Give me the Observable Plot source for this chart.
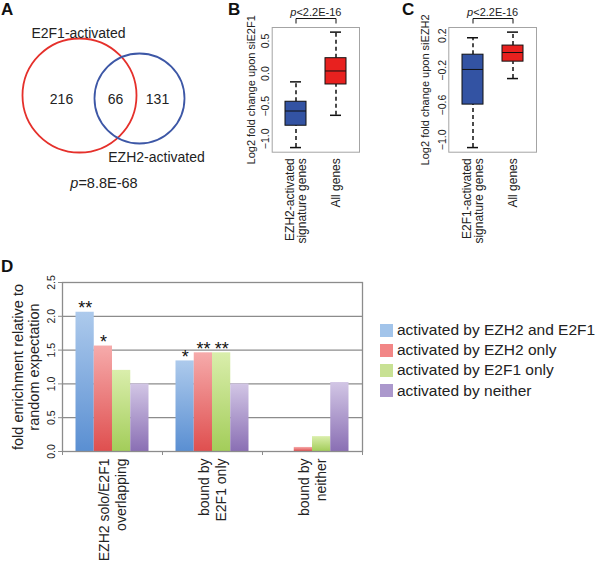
<!DOCTYPE html>
<html><head><meta charset="utf-8">
<script src="https://cdn.jsdelivr.net/npm/d3@7"></script>
<script src="https://cdn.jsdelivr.net/npm/@observablehq/plot@0.6"></script>
<style>
body{margin:0;background:#fff;}
#fig{position:relative;width:600px;height:563px;overflow:hidden;font-family:"Liberation Sans",Arial,Helvetica,sans-serif;color:#222;}
#fig svg{position:absolute;}
.letter{position:absolute;font-weight:bold;font-size:17px;line-height:17px;color:#111;}
.legend{position:absolute;left:380px;top:320px;font-size:15.5px;color:#222;}
.legend .row{display:flex;align-items:center;height:20.2px;white-space:nowrap;}
.legend .sw{width:13px;height:13px;margin-right:4px;flex:none;}
</style></head><body><div id="fig"></div>
<script>
// ---------- DATA ----------
// Panel A (Venn)
const vennSets = ["E2F1-activated", "EZH2-activated"];
const vennSetSizes = [282, 197];
const vennRegions = ["E2F1 only", "both", "EZH2 only"];
const vennRegionCounts = [216, 66, 131];
const vennP = "p=8.8E-68";

// Panel B (boxplot, siE2F1)
const boxBGroups = ["EZH2-activated\nsignature genes", "All genes"];
const boxBMin = [-1.135, -0.64];
const boxBQ1 = [-0.80, -0.167];
const boxBMed = [-0.574, 0.04];
const boxBQ3 = [-0.432, 0.236];
const boxBMax = [-0.127, 0.636];
const boxBTicks = [-1.0, -0.5, 0.0, 0.5];
const boxBLabel = "Log2 fold change upon siE2F1";
const boxBP = "p<2.2E-16";

// Panel C (boxplot, siEZH2)
const boxCGroups = ["E2F1-activated\nsignature genes", "All genes"];
const boxCMin = [-1.09, -0.295];
const boxCQ1 = [-0.595, -0.10];
const boxCMed = [-0.19, 0.005];
const boxCQ3 = [-0.02, 0.085];
const boxCMax = [0.175, 0.24];
const boxCTicks = [-1.0, -0.6, -0.2, 0.2];
const boxCLabel = "Log2 fold change upon siEZH2";
const boxCP = "p<2.2E-16";

// Panel D (grouped bars)
const barGroups = ["EZH2 solo/E2F1\noverlapping", "bound by\nE2F1 only", "bound by\nneither"];
const barSeries = ["activated by EZH2 and E2F1", "activated by EZH2 only", "activated by E2F1 only", "activated by neither"];
const barValues = [
  [2.06, 1.56, 1.20, 1.00],
  [1.34, 1.46, 1.46, 1.00],
  [0.00, 0.06, 0.22, 1.02]
];
const barStars = [
  ["**", "*", "", ""],
  ["*", "**", "**", ""],
  ["", "", "", ""]
];
const barTicks = [0, 0.5, 1.0, 1.5, 2.0, 2.5];
const barYLabel = "fold enrichment relative to\nrandom expectation";

// ---------- STYLE ----------
const FONT = '"Liberation Sans", Arial, Helvetica, sans-serif';
const vennColors = ["#e5302b", "#3d57a6"];
const boxFills = ["#3353a3", "#e8211f"];
const gradStops = [
  ["#adcaec", "#5a8fd2"],
  ["#f6abab", "#df4f4f"],
  ["#daeeac", "#a3cd5a"],
  ["#d2c6e5", "#8a6fb4"]
];
const legendColors = ["#a2c4ea", "#f28686", "#c8e194", "#ab98cc"];

const fig = document.getElementById("fig");
function place(svg, left, top) { svg.style.left = left + "px"; svg.style.top = top + "px"; fig.appendChild(svg); return svg; }
function italicP(svg) {
  svg.querySelectorAll("text").forEach(t => {
    const s = t.textContent;
    if (t.children.length === 0 && /^p[<=]/.test(s)) {
      t.textContent = "";
      const it = document.createElementNS("http://www.w3.org/2000/svg", "tspan");
      it.setAttribute("font-style", "italic");
      it.textContent = "p";
      t.appendChild(it);
      t.appendChild(document.createTextNode(s.slice(1)));
    }
  });
}
function letter(ch, left, top) {
  const d = document.createElement("div");
  d.className = "letter"; d.textContent = ch;
  d.style.left = left + "px"; d.style.top = top + "px";
  fig.appendChild(d);
}

// ---------- PANEL A ----------
{
  const layout = {cx: [79, 139], cy: [95, 98]};
  const rScale = {type: "sqrt", domain: d3.extent(vennSetSizes).sort(d3.ascending), range: [45, 57]};
  const rFn = d3.scaleSqrt().domain(rScale.domain).range(rScale.range);
  const sets = vennSets.map((s, i) => ({s, size: vennSetSizes[i], cx: layout.cx[i], cy: layout.cy[i], color: vennColors[i], r: rFn(vennSetSizes[i])}));
  const [a, b] = sets;
  const cyMid = (a.cy + b.cy) / 2 + 2.5;
  const regionX = [
    ((a.cx - a.r) + (b.cx - b.r)) / 2 + 3,
    ((b.cx - b.r) + (a.cx + a.r)) / 2,
    ((a.cx + a.r) + (b.cx + b.r)) / 2 - 3
  ];
  const regions = vennRegions.map((r, i) => ({r, n: vennRegionCounts[i], x: regionX[i], y: cyMid}));
  const svg = Plot.plot({
    width: 210, height: 200, margin: 0,
    style: {fontFamily: FONT, background: "transparent", overflow: "visible", color: "#222"},
    x: {domain: [0, 210], range: [0, 210], axis: null},
    y: {domain: [0, 200], range: [0, 200], axis: null},
    r: rScale,
    color: {type: "identity"},
    marks: [
      Plot.dot(sets, {x: "cx", y: "cy", r: "size", stroke: "color", strokeWidth: 1.8, fill: "none"}),
      Plot.text(regions, {x: "x", y: "y", text: d => String(d.n), fontSize: 14, fill: "#222"}),
      Plot.text([a], {x: d => d.cx - 1, y: d => d.cy - d.r - 1, text: "s", lineAnchor: "bottom", fontSize: 14, fill: "#222"}),
      Plot.text([b], {x: d => d.cx + 17, y: d => d.cy + d.r + 9, text: "s", lineAnchor: "top", fontSize: 14, fill: "#222"}),
      Plot.text([vennP], {x: () => (a.cx + b.cx) / 2 - 5.5, y: () => a.cy + a.r + 31, text: d => d, fontSize: 14.5, fill: "#222"})
    ]
  });
  italicP(svg);
  place(svg, 0, 0);
}

// ---------- PANELS B & C ----------
function boxPanel({groups, mins, q1s, meds, q3s, maxs, ticks, ylabel, ptext, marginLeft, marginRight, labelDx}) {
  const rows = groups.map((g, i) => ({g, min: mins[i], q1: q1s[i], med: meds[i], q3: q3s[i], max: maxs[i], fill: boxFills[i]}));
  const lo = d3.min(mins), hi = d3.max(maxs), ext = (hi - lo) * 0.04;
  const dom = [lo - ext, hi + ext];
  const span = dom[1] - dom[0];
  const yb1 = dom[1] + span * 0.035, yb2 = dom[1] + span * 0.072, yp = dom[1] + span * 0.12;
  const bracket = [
    {g: groups[0], y: yb1}, {g: groups[0], y: yb2}, {g: groups[1], y: yb2}, {g: groups[1], y: yb1}
  ];
  const dash = {stroke: "#111", strokeWidth: 1.5, strokeDasharray: "4,3"};
  const svg = Plot.plot({
    width: 180, height: 250, marginLeft, marginRight, marginTop: 27, marginBottom: 98.3,
    style: {fontFamily: FONT, background: "transparent", overflow: "visible", color: "#222"},
    x: {type: "band", domain: groups, paddingInner: 0.48, paddingOuter: 0.32, axis: null},
    y: {domain: dom, axis: null},
    color: {type: "identity"},
    marks: [
      Plot.frame({stroke: "#a4a4a4", strokeWidth: 1}),
      Plot.ruleX(rows, {x: "g", y1: "q3", y2: "max", ...dash}),
      Plot.ruleX(rows, {x: "g", y1: "min", y2: "q1", ...dash}),
      Plot.tickY(rows, {x: "g", y: "max", insetLeft: 5, insetRight: 5, stroke: "#111", strokeWidth: 1.5}),
      Plot.tickY(rows, {x: "g", y: "min", insetLeft: 5, insetRight: 5, stroke: "#111", strokeWidth: 1.5}),
      Plot.barY(rows, {x: "g", y1: "q1", y2: "q3", fill: "fill", stroke: "#111", strokeWidth: 1}),
      Plot.tickY(rows, {x: "g", y: "med", stroke: "#111", strokeWidth: 1}),
      Plot.axisY({ticks, tickSize: 0, tickPadding: 3, tickRotate: -90, tickFormat: d3.format(".1f"), fontSize: 10.5, label: null}),
      Plot.axisX({tickSize: 0, tickPadding: 6, tickRotate: -90, lineAnchor: "middle", fontSize: 12, label: null}),
      Plot.text([{t: ylabel, y: (dom[0] + dom[1]) / 2}], {y: "y", frameAnchor: "left", textAnchor: "middle", lineAnchor: "middle", rotate: -90, dx: labelDx, text: "t", fontSize: 11}),
      Plot.line(bracket, {x: "g", y: "y", stroke: "#111", strokeWidth: 1}),
      Plot.text([{t: ptext, y: yp}], {y: "y", text: "t", fontSize: 11})
    ]
  });
  italicP(svg);
  return svg;
}
place(boxPanel({groups: boxBGroups, mins: boxBMin, q1s: boxBQ1, meds: boxBMed, q3s: boxBQ3, maxs: boxBMax,
  ticks: boxBTicks, ylabel: boxBLabel, ptext: boxBP, marginLeft: 71.7, marginRight: 21, labelDx: -21}), 200, 0);
place(boxPanel({groups: boxCGroups, mins: boxCMin, q1s: boxCQ1, meds: boxCMed, q3s: boxCQ3, maxs: boxCMax,
  ticks: boxCTicks, ylabel: boxCLabel, ptext: boxCP, marginLeft: 68.3, marginRight: 24, labelDx: -23}), 380, 0);

// ---------- PANEL D ----------
{
  const rows = [];
  barGroups.forEach((g, gi) => barSeries.forEach((s, si) => rows.push({g, gi, s, si, v: barValues[gi][si], star: barStars[gi][si]})));
  const groupPad = 0.135, barW = 0.1825;
  const gradIds = barSeries.map((_, i) => "dgrad" + i);
  const grid = "#8c8c8c";
  const yDom = [barTicks[0], barTicks[barTicks.length - 1]];
  const svg = Plot.plot({
    width: 370, height: 313, marginLeft: 62, marginRight: 8, marginTop: 32, marginBottom: 112,
    style: {fontFamily: FONT, background: "transparent", overflow: "visible", color: "#222"},
    x: {domain: [0, barGroups.length], axis: null},
    y: {domain: yDom, axis: null},
    color: {type: "ordinal", domain: barSeries, range: gradIds.map(id => `url(#${id})`)},
    marks: [
      Plot.ruleY(barTicks.slice(1, -1), {stroke: grid, strokeWidth: 1.3}),
      Plot.rectY(rows, {
        x1: d => d.gi + groupPad + d.si * barW,
        x2: d => d.gi + groupPad + (d.si + 1) * barW,
        y1: 0, y2: "v", fill: "s"
      }),
      Plot.frame({stroke: grid, strokeWidth: 1.3}),
      Plot.text(rows.filter(d => d.star), {
        x: d => d.gi + groupPad + (d.si + 0.5) * barW, y: "v", text: "star",
        lineAnchor: "bottom", dy: 2, fontSize: 18, fill: "#111"
      }),
      Plot.axisY({ticks: barTicks, tickSize: 4, tickPadding: 4, tickRotate: -90, tickFormat: d3.format(".1f"), fontSize: 10.5, stroke: grid, label: null}),
      Plot.axisX({ticks: d3.range(barGroups.length + 1), tickSize: 4, tickFormat: () => "", stroke: grid, label: null}),
      Plot.axisX({ticks: barGroups.map((_, i) => i + 0.5), tickSize: 0, tickPadding: 7, tickRotate: -90, lineAnchor: "middle",
        tickFormat: t => barGroups[Math.floor(t)], fontSize: 14, lineHeight: 1.2, label: null}),
      Plot.text([{t: barYLabel, y: (yDom[0] + yDom[1]) / 2}], {y: "y", frameAnchor: "left", textAnchor: "middle", lineAnchor: "middle", rotate: -90, dx: -37, text: "t", fontSize: 14.5, lineHeight: 1.15})
    ]
  });
  const defs = d3.select(svg).insert("defs", ":first-child");
  gradIds.forEach((id, i) => {
    const lg = defs.append("linearGradient").attr("id", id).attr("x1", 0).attr("y1", 0).attr("x2", 0).attr("y2", 1);
    lg.append("stop").attr("offset", "0%").attr("stop-color", gradStops[i][0]);
    lg.append("stop").attr("offset", "100%").attr("stop-color", gradStops[i][1]);
  });
  place(svg, 0, 250);

  const leg = document.createElement("div");
  leg.className = "legend";
  barSeries.forEach((s, i) => {
    const row = document.createElement("div"); row.className = "row";
    const sw = document.createElement("div"); sw.className = "sw"; sw.style.background = legendColors[i];
    const tx = document.createElement("span"); tx.textContent = s;
    row.appendChild(sw); row.appendChild(tx); leg.appendChild(row);
  });
  fig.appendChild(leg);
}

letter("A", 1, 1);
letter("B", 228, 1);
letter("C", 402, 1);
letter("D", 1, 258);
</script></body></html>
